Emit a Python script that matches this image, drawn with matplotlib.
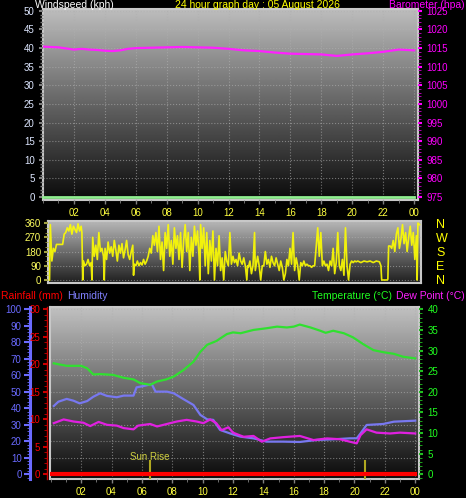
import numpy as np
import matplotlib.pyplot as plt
from matplotlib.ticker import MultipleLocator

plt.rcParams['font.family'] = ['Liberation Sans', 'DejaVu Sans']

# --- barometer / windspeed (top panel) ---
baro_hours = [0, 0.5, 1, 1.5, 2, 2.5, 3, 3.5, 4, 4.5, 5, 5.5, 6, 7, 8, 9, 10, 11,
              12, 13, 14, 15, 16, 17, 18, 19, 20, 21, 22, 23, 24]
pressure = [1015.4, 1015.3, 1015.2, 1014.9, 1014.6, 1014.8, 1014.6, 1014.5, 1014.3,
            1014.2, 1014.4, 1014.8, 1015.0, 1015.1, 1015.2, 1015.3, 1015.2, 1015.1,
            1014.8, 1014.4, 1014.2, 1013.8, 1013.5, 1013.4, 1013.3, 1012.9, 1013.3,
            1013.6, 1014.0, 1014.6, 1014.4]
wind_speed = [0] * len(baro_hours)

# --- wind direction (middle panel) ---
wind_hours = [0.0, 0.05, 0.15, 0.25, 0.35, 0.45, 0.6, 0.75, 0.85, 0.95, 1.05, 1.15, 1.25,
              1.35, 1.45, 1.55, 1.65, 1.75, 1.85, 1.95, 2.05, 2.1, 2.15, 2.2, 2.3, 2.4,
              2.5, 2.6, 2.7, 2.75, 2.8, 2.9, 3.0, 3.1, 3.2, 3.3, 3.4, 3.5, 3.55, 3.6,
              3.7, 3.8, 3.9, 4.0, 4.1, 4.2, 4.3, 4.4, 4.5, 4.6, 4.7, 4.8, 4.9, 5.0,
              5.1, 5.2, 5.3, 5.4, 5.45, 5.5, 5.6, 5.7, 5.8, 5.9, 6.0, 6.1, 6.2, 6.3,
              6.4, 6.5, 6.6, 6.7, 6.8, 6.9, 7.0, 7.1, 7.2, 7.3, 7.4, 7.5, 7.6, 7.7,
              7.8, 7.9, 8.0, 8.1, 8.2, 8.3, 8.4, 8.5, 8.6, 8.7, 8.8, 8.9, 9.0, 9.1,
              9.2, 9.3, 9.4, 9.5, 9.6, 9.7, 9.75, 9.8, 9.9, 10.0, 10.1, 10.2, 10.3,
              10.4, 10.5, 10.6, 10.7, 10.8, 10.9, 11.0, 11.1, 11.2, 11.3, 11.4, 11.5,
              11.6, 11.7, 11.8, 11.9, 12.0, 12.1, 12.2, 12.3, 12.4, 12.5, 12.6, 12.7,
              12.8, 12.85, 12.9, 13.0, 13.1, 13.2, 13.3, 13.35, 13.4, 13.5, 13.6, 13.7,
              13.8, 13.9, 14.0, 14.1, 14.2, 14.3, 14.4, 14.5, 14.6, 14.7, 14.8, 14.9,
              15.0, 15.1, 15.2, 15.3, 15.4, 15.5, 15.6, 15.7, 15.8, 15.9, 16.0, 16.1,
              16.2, 16.3, 16.4, 16.5, 16.6, 16.7, 16.8, 16.9, 17.0, 17.1, 17.2, 17.4,
              17.5, 17.6, 17.7, 17.8, 17.9, 18.0, 18.1, 18.2, 18.3, 18.4, 18.5, 18.6,
              18.7, 18.8, 18.9, 19.0, 19.1, 19.2, 19.3, 19.4, 19.5, 19.6, 19.7, 19.8,
              19.9, 20.0, 20.2, 20.4, 20.6, 20.8, 21.0, 21.2, 21.4, 21.5, 21.55, 21.7,
              21.9, 21.95, 22.0, 22.1, 22.2, 22.3, 22.4, 22.5, 22.6, 22.7, 22.8, 22.9,
              23.0, 23.1, 23.2, 23.3, 23.4, 23.5, 23.6, 23.7, 23.8, 23.85, 23.9, 24.0]
wind_dir = [0, 350, 120, 200, 180, 225, 225, 225, 225, 290, 300, 330, 310,
            350, 290, 340, 320, 300, 355, 310, 340, 300, 0, 120, 90, 100,
            130, 90, 110, 0, 270, 150, 220, 130, 300, 180, 200, 150, 0, 200,
            130, 240, 170, 210, 150, 250, 190, 120, 220, 170, 230, 140, 190, 250,
            160, 130, 180, 220, 30, 100, 90, 120, 90, 110, 95, 130, 100, 120,
            150, 200, 170, 280, 220, 300, 180, 340, 130, 240, 60, 300, 200, 350,
            150, 250, 100, 330, 200, 280, 130, 300, 80, 250, 350, 180, 300, 60,
            270, 150, 340, 220, 310, 150, 0, 350, 200, 330, 90, 300, 40,
            250, 120, 310, 0, 200, 90, 280, 60, 140, 0, 180, 120,
            90, 300, 100, 150, 110, 130, 90, 170, 120, 100, 140, 90,
            0, 90, 80, 120, 40, 90, 300, 60, 90, 150, 90, 0,
            90, 90, 180, 100, 130, 80, 150, 110, 90, 140, 100, 60,
            120, 80, 0, 40, 130, 90, 200, 100, 300, 60, 140, 90,
            0, 110, 90, 120, 90, 100, 90, 90, 80, 90, 90, 330,
            150, 300, 90, 120, 90, 100, 60, 120, 90, 200, 40, 110,
            300, 90, 60, 130, 30, 330, 90, 0, 100, 120, 110, 120,
            115, 120, 110, 120, 115, 120, 110, 120, 115, 90, 0, 0,
            0, 5, 215, 215, 200, 250, 180, 290, 330, 200, 260, 350,
            230, 300, 180, 270, 340, 220, 300, 130, 280, 0, 360, 350]

# --- temperature / humidity / dew point / rain (bottom panel) ---
temp_hours = [0.2, 1.05, 2.0, 2.4, 2.8, 3.25, 4.1, 4.8, 5.45, 5.9, 6.55, 7.0, 7.6, 8.1,
              8.75, 9.4, 9.85, 10.3, 10.9, 11.6, 12.0, 12.5, 13.35, 14.2, 14.9, 15.55,
              16.0, 16.4, 17.1, 17.75, 18.1, 18.6, 19.3, 19.9, 20.6, 21.25, 21.9,
              22.6, 23.2, 24.0]
temperature = [26.9, 26.3, 26.3, 25.7, 24.2, 24.3, 24.1, 23.4, 23.0, 22.1, 21.7, 22.5,
               23.0, 23.7, 25.3, 27.3, 29.7, 31.4, 32.3, 34.0, 34.4, 34.2, 35.0, 35.4,
               35.8, 35.6, 35.8, 36.3, 35.6, 34.8, 34.3, 34.8, 34.2, 33.2, 31.5, 30.1,
               29.6, 29.2, 28.5, 28.1]

hum_hours = [0.2, 0.5, 1.05, 1.5, 1.9, 2.4, 2.8, 3.25, 3.7, 4.35, 4.8, 5.45, 5.65, 6.1,
             6.65, 6.9, 7.65, 8.1, 8.75, 9.4, 9.85, 10.3, 10.7, 11.15, 11.8, 12.5,
             13.35, 14.2, 15.3, 16.4, 17.5, 18.6, 19.7, 20.15, 20.4, 20.8, 21.9,
             22.6, 24.0]
humidity = [41.4, 44.0, 45.7, 44.6, 43.0, 44.4, 47.0, 49.1, 47.5, 46.7, 47.7, 47.7,
            52.7, 53.5, 54.7, 50.1, 50.1, 49.1, 45.5, 42.0, 36.0, 33.3, 33.0, 26.9,
            24.8, 22.8, 21.8, 19.8, 19.8, 19.6, 20.8, 21.2, 21.8, 21.8, 24.8, 29.9,
            30.5, 31.9, 32.5]

dew_hours = [0.2, 0.85, 1.5, 2.15, 2.6, 3.15, 3.7, 4.35, 4.8, 5.45, 5.75, 6.55, 7.0,
             7.65, 8.3, 8.95, 9.6, 10.05, 10.5, 10.9, 11.25, 11.7, 12.0, 12.7, 13.35,
             13.9, 14.45, 15.3, 16.4, 17.3, 18.2, 19.05, 19.7, 20.15, 20.4, 20.8,
             21.45, 22.35, 23.0, 24.0]
dew_point = [12.4, 13.3, 12.8, 12.5, 11.7, 12.7, 12.0, 11.8, 11.2, 10.9, 11.8, 12.2,
             11.6, 12.2, 12.8, 13.2, 12.8, 12.4, 13.3, 12.4, 10.7, 11.4, 10.1, 9.1,
             9.3, 7.9, 8.7, 9.0, 9.3, 8.3, 8.7, 8.5, 7.9, 7.5, 9.5, 10.9, 10.1, 9.9,
             10.1, 9.9]

rain_hours = [0, 24]
rainfall = [0, 0]

sun_rise = 6.55
sun_set = 20.7

hour_ticks = list(range(2, 25, 2))
hour_labels = ['%02d' % (h % 24) for h in hour_ticks]

FRAME = '#c8c8c8'
HEAD = 7.5


def shade(ax, top, bottom):
    # vertical grey gradient behind the plot area
    g = np.linspace(top, bottom, 256)[:, None]
    ax.imshow(g, cmap='gray', vmin=0, vmax=1, extent=[0, 1, 0, 1],
              transform=ax.transAxes, aspect='auto', zorder=0,
              interpolation='bilinear')


def frame(ax):
    ax.set_facecolor('black')
    for s in ax.spines.values():
        s.set_color(FRAME)
        s.set_linewidth(1.5)
    ax.grid(True, color='#b0b0b0', linestyle=':', linewidth=0.8, alpha=0.6)
    ax.set_axisbelow(False)


fig = plt.figure(figsize=(4.66, 4.98), dpi=100, facecolor='black')

# ---------------- top panel ----------------
ax1 = fig.add_axes([43 / 466, 1 - 200 / 498, 375 / 466, 191 / 498])
shade(ax1, 0.74, 0.04)
frame(ax1)
ax1.plot(baro_hours, wind_speed, color='#90ee90', lw=2, zorder=4, clip_on=False)
ax1.set_xlim(0, 24.25)
ax1.set_ylim(-0.8, 50.5)
ax1.yaxis.set_major_locator(MultipleLocator(5))
ax1.yaxis.set_minor_locator(MultipleLocator(1))
ax1.set_xticks(hour_ticks)
ax1.set_xticklabels(hour_labels)
ax1.xaxis.set_minor_locator(MultipleLocator(1))
ax1.tick_params(axis='y', colors='#808080', labelcolor='#dde6ff', labelsize=7,
                length=3, width=1.5, pad=3)
ax1.tick_params(axis='y', which='minor', colors='#808080', length=2, width=1)
ax1.tick_params(axis='x', colors='#808080', labelcolor='#ffff40', labelsize=7,
                length=3, width=1, pad=3)
ax1.tick_params(axis='x', which='minor', colors='#808080', length=2)

ax1b = ax1.twinx()
ax1b.plot(baro_hours, pressure, color='#ff20ff', lw=1.6, zorder=5)
ax1b.set_ylim(975 - 0.8, 1025.5)
ax1b.yaxis.set_major_locator(MultipleLocator(5))
ax1b.yaxis.set_minor_locator(MultipleLocator(1))
ax1b.tick_params(axis='y', colors='#ff00ff', labelsize=7, length=3, width=1.5, pad=3)
ax1b.tick_params(axis='y', which='minor', colors='#cc00cc', length=2)
for s in ax1b.spines.values():
    s.set_visible(False)

fig.text(35 / 466, 1 - 0.5 / 498, 'Windspeed (kph)', color='white', fontsize=HEAD,
         va='top', ha='left')
fig.text(257 / 466, 1 - 0.5 / 498, '24 hour graph day : 05 August 2026',
         color='#ffff00', fontsize=HEAD, va='top', ha='center')
fig.text(465 / 466, 1 - 0.5 / 498, 'Barometer (hpa)', color='#ff00ff', fontsize=HEAD,
         va='top', ha='right')

# ---------------- wind direction panel ----------------
ax2 = fig.add_axes([48 / 466, 1 - 283 / 498, 373 / 466, 62 / 498])
shade(ax2, 0.72, 0.12)
frame(ax2)
ax2.grid(False)
ax2.yaxis.grid(True, color='#b0b0b0', linestyle=':', linewidth=0.8, alpha=0.6)
ax2.plot(wind_hours, wind_dir, color='#ffff00', lw=1.2, alpha=0.9, zorder=4)
ax2.set_xlim(-0.1, 24.1)
ax2.set_ylim(-19, 373)
ax2.set_yticks([0, 90, 180, 270, 360])
ax2.yaxis.set_minor_locator(MultipleLocator(30))
ax2.set_xticks([])
ax2.tick_params(axis='y', colors='#a0a040', labelcolor='#ffff60', labelsize=7,
                length=3, width=1.5, pad=2)
ax2.tick_params(axis='y', which='minor', colors='#a0a040', length=2)

ax2b = ax2.twinx()
ax2b.set_ylim(-19, 373)
ax2b.set_yticks([0, 90, 180, 270, 360])
ax2b.set_yticklabels(['N', 'E', 'S', 'W', 'N'])
ax2b.tick_params(axis='y', colors='#ffff00', labelsize=9, length=0, pad=11)
for s in ax2b.spines.values():
    s.set_visible(False)

# ---------------- bottom panel ----------------
ax3 = fig.add_axes([50 / 466, 1 - 479 / 498, 369 / 466, 172 / 498])
shade(ax3, 0.76, 0.04)
frame(ax3)
ax3.set_xlim(-0.05, 24.25)
ax3.set_ylim(-2.85, 101.4)
ax3.plot(hum_hours, humidity, color='#7878f0', lw=1.6, zorder=4)
ax3.set_xticks(hour_ticks)
ax3.set_xticklabels(hour_labels)
ax3.xaxis.set_minor_locator(MultipleLocator(1))
ax3.tick_params(axis='x', colors='#808080', labelcolor='#ffff40', labelsize=7,
                length=3, width=1, pad=3)
ax3.tick_params(axis='x', which='minor', colors='#808080', length=2)
ax3.yaxis.set_major_locator(MultipleLocator(10))
ax3.yaxis.set_minor_locator(MultipleLocator(2))
ax3.spines['left'].set_position(('outward', 14.4))
ax3.spines['left'].set_color('#6a6aff')
ax3.spines['left'].set_linewidth(2.2)
ax3.tick_params(axis='y', colors='#6a6aff', labelcolor='#6a6aff', labelsize=7,
                length=4, width=1.5, pad=2)
ax3.tick_params(axis='y', which='minor', colors='#6a6aff', length=2)
for v in (sun_rise, sun_set):
    ax3.axvline(v, 0, 0.105, color='#b0a820', lw=1.5, zorder=6)
ax3.text(sun_rise, 8.6, 'Sun Rise', color='#d0d040', fontsize=7, ha='center',
         va='baseline', zorder=6)

# box outline drawn separately since the left spine moved outward
ax3.plot([0, 0], [0, 1], transform=ax3.transAxes, color=FRAME, lw=1.5,
         clip_on=False, zorder=7)

ax_rain = ax3.twinx()
ax_rain.yaxis.set_ticks_position('left')
ax_rain.spines['left'].set_visible(True)
ax_rain.spines['left'].set_position(('outward', 2))
ax_rain.spines['left'].set_color('#cc0000')
ax_rain.spines['left'].set_linewidth(1)
for s in ('right', 'top', 'bottom'):
    ax_rain.spines[s].set_visible(False)
ax_rain.set_ylim(-0.855, 30.42)
ax_rain.plot(rain_hours, rainfall, color='#ff0000', lw=3, zorder=5)
ax_rain.yaxis.set_major_locator(MultipleLocator(5))
ax_rain.yaxis.set_minor_locator(MultipleLocator(1))
ax_rain.tick_params(axis='y', colors='#cc0000', labelcolor='#ff0000', labelsize=7,
                    length=3, width=1.5, pad=2)
ax_rain.tick_params(axis='y', which='minor', colors='#cc0000', length=2)

ax_temp = ax3.twinx()
for s in ax_temp.spines.values():
    s.set_visible(False)
ax_temp.set_ylim(-1.14, 40.56)
ax_temp.plot(temp_hours, temperature, color='#30e030', lw=1.6, zorder=5)
ax_temp.plot(dew_hours, dew_point, color='#e020e0', lw=1.6, zorder=5)
ax_temp.yaxis.set_major_locator(MultipleLocator(5))
ax_temp.yaxis.set_minor_locator(MultipleLocator(1))
ax_temp.tick_params(axis='y', colors='#20c020', labelcolor='#20ff20', labelsize=7,
                    length=3, width=1.5, pad=3)
ax_temp.tick_params(axis='y', which='minor', colors='#20c020', length=2)

fig.text(1 / 466, 1 - 296 / 498, 'Rainfall (mm)', color='#ff0000', fontsize=HEAD,
         va='center', ha='left')
fig.text(67 / 466, 1 - 296 / 498, 'Humidity', color='#8080ff', fontsize=HEAD,
         va='center', ha='left')
fig.text(312 / 466, 1 - 296 / 498, 'Temperature (°C)', color='#20ff20', fontsize=HEAD,
         va='center', ha='left')
fig.text(465 / 466, 1 - 296 / 498, 'Dew Point (°C)', color='#ff20ff', fontsize=HEAD,
         va='center', ha='right')

fig.savefig('out.png', dpi=100, facecolor='black')
